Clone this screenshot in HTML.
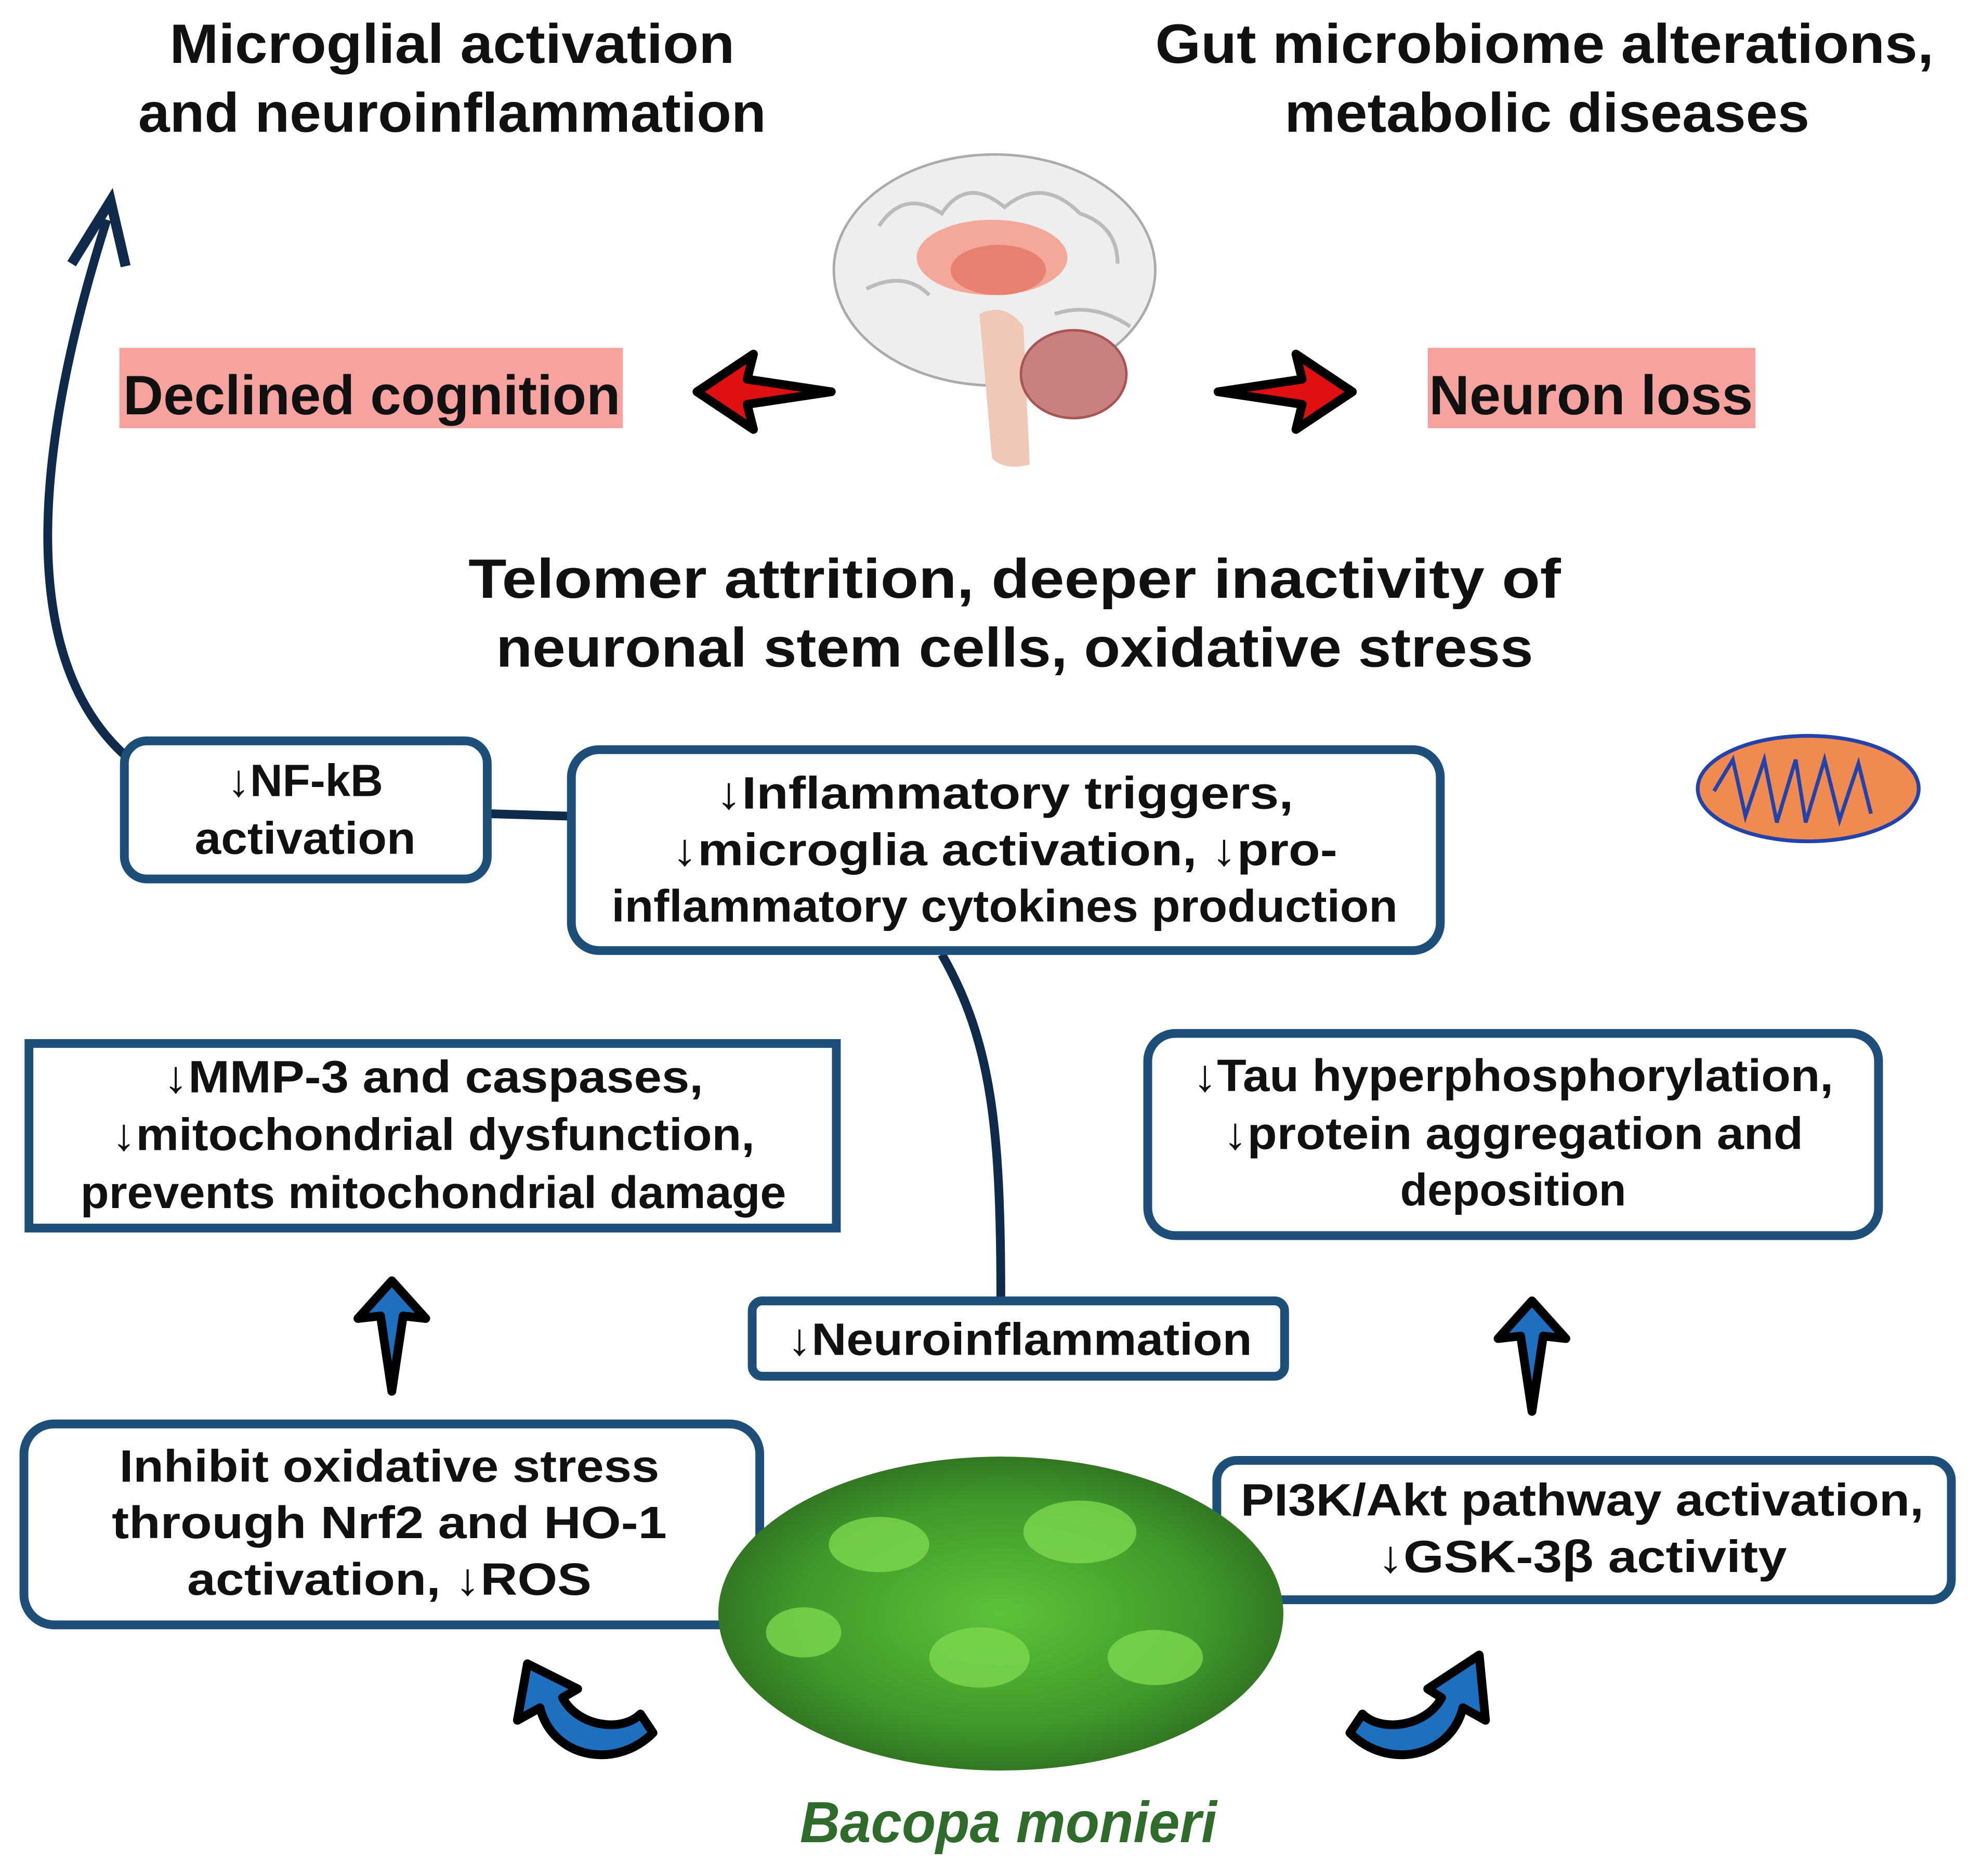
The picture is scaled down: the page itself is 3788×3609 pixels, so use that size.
<!DOCTYPE html>
<html><head><meta charset="utf-8"><style>
html,body{margin:0;padding:0;background:#fff}
svg{display:block}
text{font-family:"Liberation Sans",sans-serif;font-weight:bold;fill:#111}
</style></head><body>
<svg width="3788" height="3609" viewBox="0 0 1568 1494" xmlns="http://www.w3.org/2000/svg">
<defs>
<radialGradient id="leaf" cx="50%" cy="50%" r="60%">
<stop offset="0" stop-color="#5cc23a"/><stop offset="0.6" stop-color="#3f9a2a"/><stop offset="1" stop-color="#2b5e20"/>
</radialGradient>
</defs>
<g font-size="44" text-anchor="middle">
<text x="360" y="50" textLength="450" lengthAdjust="spacingAndGlyphs">Microglial activation</text>
<text x="360" y="105" textLength="500" lengthAdjust="spacingAndGlyphs">and neuroinflammation</text>
<text x="1230" y="50" textLength="620" lengthAdjust="spacingAndGlyphs">Gut microbiome alterations,</text>
<text x="1232" y="105" textLength="418" lengthAdjust="spacingAndGlyphs">metabolic diseases</text>
<text x="808" y="476" textLength="870" lengthAdjust="spacingAndGlyphs">Telomer attrition, deeper inactivity of</text>
<text x="808" y="531" textLength="826" lengthAdjust="spacingAndGlyphs">neuronal stem cells, oxidative stress</text>
</g>
<!-- brain -->
<ellipse cx="792" cy="215" rx="128" ry="92" fill="#eeeeee" stroke="#aaa" stroke-width="2"/>
<path d="M700 180 q20 -30 50 -10 q20 -30 50 -5 q30 -25 60 5 q30 10 30 40" fill="none" stroke="#bbb" stroke-width="3"/>
<path d="M690 230 q30 -15 50 5 M840 250 q30 -10 60 10" fill="none" stroke="#bbb" stroke-width="3"/>
<ellipse cx="790" cy="205" rx="60" ry="30" fill="#f4a89a"/>
<ellipse cx="795" cy="215" rx="38" ry="20" fill="#e88070"/>
<path d="M780 250 q20 -10 35 10 l5 110 q-20 5 -30 -5 z" fill="#f0c8b8"/>
<ellipse cx="855" cy="298" rx="42" ry="35" fill="#c98080" stroke="#a55" stroke-width="2"/>
<!-- labels -->
<rect x="95" y="277" width="401" height="64" fill="#f6a3a0"/>
<text x="296" y="330" font-size="44" text-anchor="middle" textLength="396" lengthAdjust="spacingAndGlyphs">Declined cognition</text>
<rect x="1137" y="277" width="261" height="64" fill="#f6a3a0"/>
<text x="1267" y="330" font-size="44" text-anchor="middle" textLength="258" lengthAdjust="spacingAndGlyphs">Neuron loss</text>
<!-- red arrows -->
<path d="M555 312 L600 282 L595 302 L662 312 L595 322 L600 342 Z" fill="#e01010" stroke="#000" stroke-width="7" stroke-linejoin="round"/>
<path d="M1077 312 L1032 282 L1037 302 L970 312 L1037 322 L1032 342 Z" fill="#e01010" stroke="#000" stroke-width="7" stroke-linejoin="round"/>
<!-- mitochondrion -->
<ellipse cx="1440" cy="628" rx="88" ry="42" fill="#f08a50" stroke="#2244aa" stroke-width="3"/>
<path d="M1365 630 l15 -25 l10 45 l15 -45 l10 50 l15 -50 l8 50 l15 -50 l12 48 l15 -45 l10 40" fill="none" stroke="#2244aa" stroke-width="3"/>
<!-- big curved arrow -->
<path d="M100 602 C20 530 20 380 85 175" fill="none" stroke="#0f2a4a" stroke-width="7"/>
<path d="M57 210 L88 160 L100 212" fill="none" stroke="#0f2a4a" stroke-width="8" stroke-linejoin="miter"/>
<!-- connectors -->
<line x1="388" y1="648" x2="455" y2="650" stroke="#0f2a4a" stroke-width="7"/>
<path d="M750 760 C790 830 797 900 797 1035" fill="none" stroke="#0f2a4a" stroke-width="7"/>
<!-- boxes -->
<g fill="#fff" stroke="#1d4f78" stroke-width="7">
<rect x="99" y="590" width="289" height="110" rx="18"/>
<rect x="455" y="597" width="692" height="160" rx="22"/>
<rect x="23" y="831" width="643" height="147" rx="0"/>
<rect x="914" y="823" width="582" height="161" rx="22"/>
<rect x="599" y="1036" width="424" height="60" rx="8"/>
<rect x="19" y="1134" width="586" height="160" rx="24"/>
<rect x="969" y="1163" width="585" height="111" rx="16"/>
</g>
<g font-size="36" text-anchor="middle">
<text x="243" y="634">↓NF-kB</text>
<text x="243" y="680" textLength="176" lengthAdjust="spacingAndGlyphs">activation</text>
<text x="800" y="644" textLength="460" lengthAdjust="spacingAndGlyphs">↓Inflammatory triggers,</text>
<text x="800" y="689" textLength="530" lengthAdjust="spacingAndGlyphs">↓microglia activation, ↓pro-</text>
<text x="800" y="734" textLength="626" lengthAdjust="spacingAndGlyphs">inflammatory cytokines production</text>
<text x="345" y="870" textLength="430" lengthAdjust="spacingAndGlyphs">↓MMP-3 and caspases,</text>
<text x="345" y="916" textLength="512" lengthAdjust="spacingAndGlyphs">↓mitochondrial dysfunction,</text>
<text x="345" y="962" textLength="562" lengthAdjust="spacingAndGlyphs">prevents mitochondrial damage</text>
<text x="1205" y="869" textLength="510" lengthAdjust="spacingAndGlyphs">↓Tau hyperphosphorylation,</text>
<text x="1205" y="915" textLength="462" lengthAdjust="spacingAndGlyphs">↓protein aggregation and</text>
<text x="1205" y="960" textLength="180" lengthAdjust="spacingAndGlyphs">deposition</text>
<text x="812" y="1079" textLength="370" lengthAdjust="spacingAndGlyphs">↓Neuroinflammation</text>
<text x="310" y="1180" textLength="430" lengthAdjust="spacingAndGlyphs">Inhibit oxidative stress</text>
<text x="310" y="1225" textLength="442" lengthAdjust="spacingAndGlyphs">through Nrf2 and HO-1</text>
<text x="310" y="1270" textLength="322" lengthAdjust="spacingAndGlyphs">activation, ↓ROS</text>
<text x="1260" y="1207" textLength="544" lengthAdjust="spacingAndGlyphs">PI3K/Akt pathway activation,</text>
<text x="1260" y="1252" textLength="326" lengthAdjust="spacingAndGlyphs">↓GSK-3β activity</text>
</g>
<!-- leaf ellipse -->
<ellipse cx="797" cy="1285" rx="225" ry="125" fill="url(#leaf)"/>
<g fill="#7cd84e" opacity="0.8">
<ellipse cx="700" cy="1230" rx="40" ry="22"/><ellipse cx="860" cy="1220" rx="45" ry="25"/>
<ellipse cx="780" cy="1320" rx="40" ry="24"/><ellipse cx="920" cy="1320" rx="38" ry="22"/>
<ellipse cx="640" cy="1300" rx="30" ry="20"/>
</g>
<!-- up arrows -->
<path d="M312 1020 L285 1050 L303 1048 L312 1108 L321 1048 L339 1050 Z" fill="#1e6fc0" stroke="#000" stroke-width="7" stroke-linejoin="round"/>
<path d="M1220 1036 L1193 1066 L1211 1064 L1220 1124 L1229 1064 L1247 1066 Z" fill="#1e6fc0" stroke="#000" stroke-width="7" stroke-linejoin="round"/>
<!-- curved blue arrows -->
<path d="M520 1380 C490 1410 440 1400 430 1360 L412 1370 L420 1325 L460 1345 L448 1352 C460 1375 495 1380 510 1365 Z" fill="#1e6fc0" stroke="#000" stroke-width="7" stroke-linejoin="round"/>
<path d="M1075 1380 C1105 1410 1155 1400 1165 1360 L1183 1370 L1178 1318 L1137 1345 L1148 1352 C1136 1375 1100 1380 1085 1365 Z" fill="#1e6fc0" stroke="#000" stroke-width="7" stroke-linejoin="round"/>
<text x="803" y="1467" font-size="46" font-style="italic" text-anchor="middle" style="fill:#2f6b2a" textLength="332" lengthAdjust="spacingAndGlyphs">Bacopa monieri</text>
</svg>
</body></html>
